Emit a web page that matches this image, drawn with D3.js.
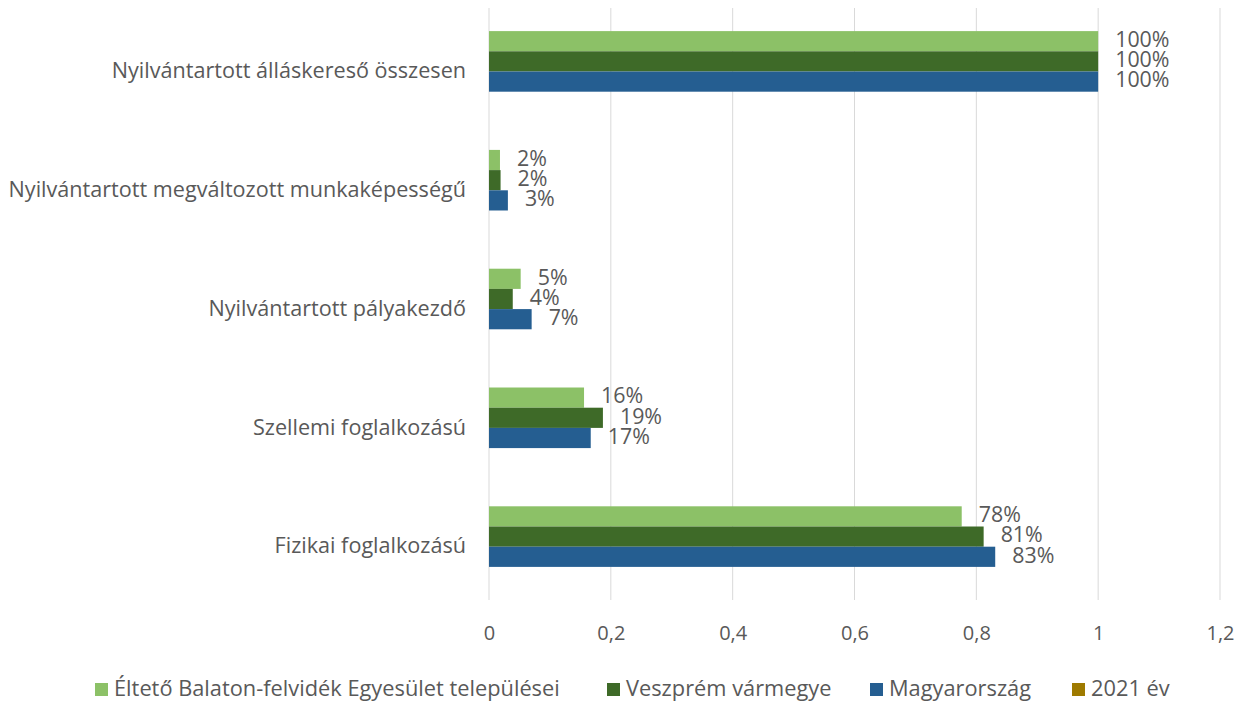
<!DOCTYPE html>
<html>
<head>
<meta charset="utf-8">
<script src="https://cdn.jsdelivr.net/npm/d3@7"></script>
<style>
  body { margin: 0; background: #fff; }
  svg { display: block; }
  text { font-family: "Open Sans", "Liberation Sans", sans-serif; fill: #595959; }
</style>
</head>
<body>
<svg id="chart" width="1246" height="704"></svg>
<script>
// chart data
var categories = [
    "Nyilvántartott álláskereső összesen",
    "Nyilvántartott megváltozott munkaképességű",
    "Nyilvántartott pályakezdő",
    "Szellemi foglalkozású",
    "Fizikai foglalkozású"
];
var seriesNames = ["Éltető Balaton-felvidék Egyesület települései", "Veszprém vármegye", "Magyarország", "2021 év"];
var eltetoValues = [1, 0.018, 0.052, 0.156, 0.776];
var veszpremValues = [1, 0.019, 0.039, 0.187, 0.812];
var magyarValues = [1, 0.031, 0.070, 0.167, 0.831];
var tickValues = [0, 0.2, 0.4, 0.6, 0.8, 1, 1.2];

var colors = ["#8cc167", "#3e6a28", "#255e91", "#9e7a00"];

var svg = d3.select("#chart");
var margin = { left: 489, right: 26, top: 2, bottom: 108 };
var width = 1246 - margin.left - margin.right;
var height = 704 - margin.top - margin.bottom;

var g = svg.append("g").attr("transform", "translate(" + margin.left + "," + margin.top + ")");

var x = d3.scaleLinear().domain([0, 1.2]).range([0, width]);
var y = d3.scaleBand().domain(categories).range([0, height]).paddingInner(0.49).paddingOuter(0.245);
var ySeries = d3.scaleBand().domain([0, 1, 2]).range([0, y.bandwidth()]);

// vertical gridlines
g.selectAll(".grid").data(tickValues).enter().append("line")
    .attr("class", "grid")
    .attr("x1", function(d){ return x(d); })
    .attr("x2", function(d){ return x(d); })
    .attr("y1", 6)
    .attr("y2", height + 4)
    .attr("stroke", "#d9d9d9")
    .attr("stroke-width", 1);

// x axis tick labels
var fmtTick = function(d){ return String(d).replace(".", ","); };
var xAxis = d3.axisBottom(x).tickValues(tickValues).tickFormat(fmtTick).tickSize(0).tickPadding(30);
var axisG = g.append("g").attr("transform", "translate(0," + height + ")").call(xAxis);
axisG.select(".domain").remove();
axisG.selectAll("text").style("font-size", "20px").style("font-family", null).attr("fill", "#595959");

// category labels
g.selectAll(".cat").data(categories).enter().append("text")
    .attr("class", "cat")
    .attr("x", -23)
    .attr("y", function(d){ return y(d) + y.bandwidth() / 2 + 11; })
    .attr("text-anchor", "end")
    .attr("dominant-baseline", "middle")
    .style("font-size", "21.6px")
    .text(function(d){ return d; });

// bars
var series = [eltetoValues, veszpremValues, magyarValues];
var fmtPct = d3.format(".0%");
series.forEach(function(values, si){
    var sg = g.append("g");
    sg.selectAll("rect").data(values).enter().append("rect")
        .attr("x", x(0))
        .attr("y", function(d, i){ return y(categories[i]) + ySeries(si); })
        .attr("width", function(d){ return x(d) - x(0); })
        .attr("height", ySeries.bandwidth())
        .attr("fill", colors[si]);
    sg.selectAll("text").data(values).enter().append("text")
        .attr("x", function(d){ return x(d) + 17; })
        .attr("y", function(d, i){ return y(categories[i]) + ySeries(si) + ySeries.bandwidth() / 2; })
        .attr("dominant-baseline", "middle")
        .style("font-size", "21.4px")
        .text(function(d){ return fmtPct(d); });
});

// legend
var legendX = [95, 607, 870, 1072];
var legend = svg.append("g").attr("transform", "translate(0,690)");
var items = legend.selectAll("g").data(seriesNames).enter().append("g")
    .attr("transform", function(d, i){ return "translate(" + legendX[i] + ",0)"; });
items.append("rect").attr("x", 0).attr("y", -7).attr("width", 13).attr("height", 13)
    .attr("fill", function(d, i){ return colors[i]; });
items.append("text").attr("x", 19).attr("y", 0)
    .attr("dominant-baseline", "middle")
    .style("font-size", "21.8px")
    .text(function(d){ return d; });
</script>
</body>
</html>
